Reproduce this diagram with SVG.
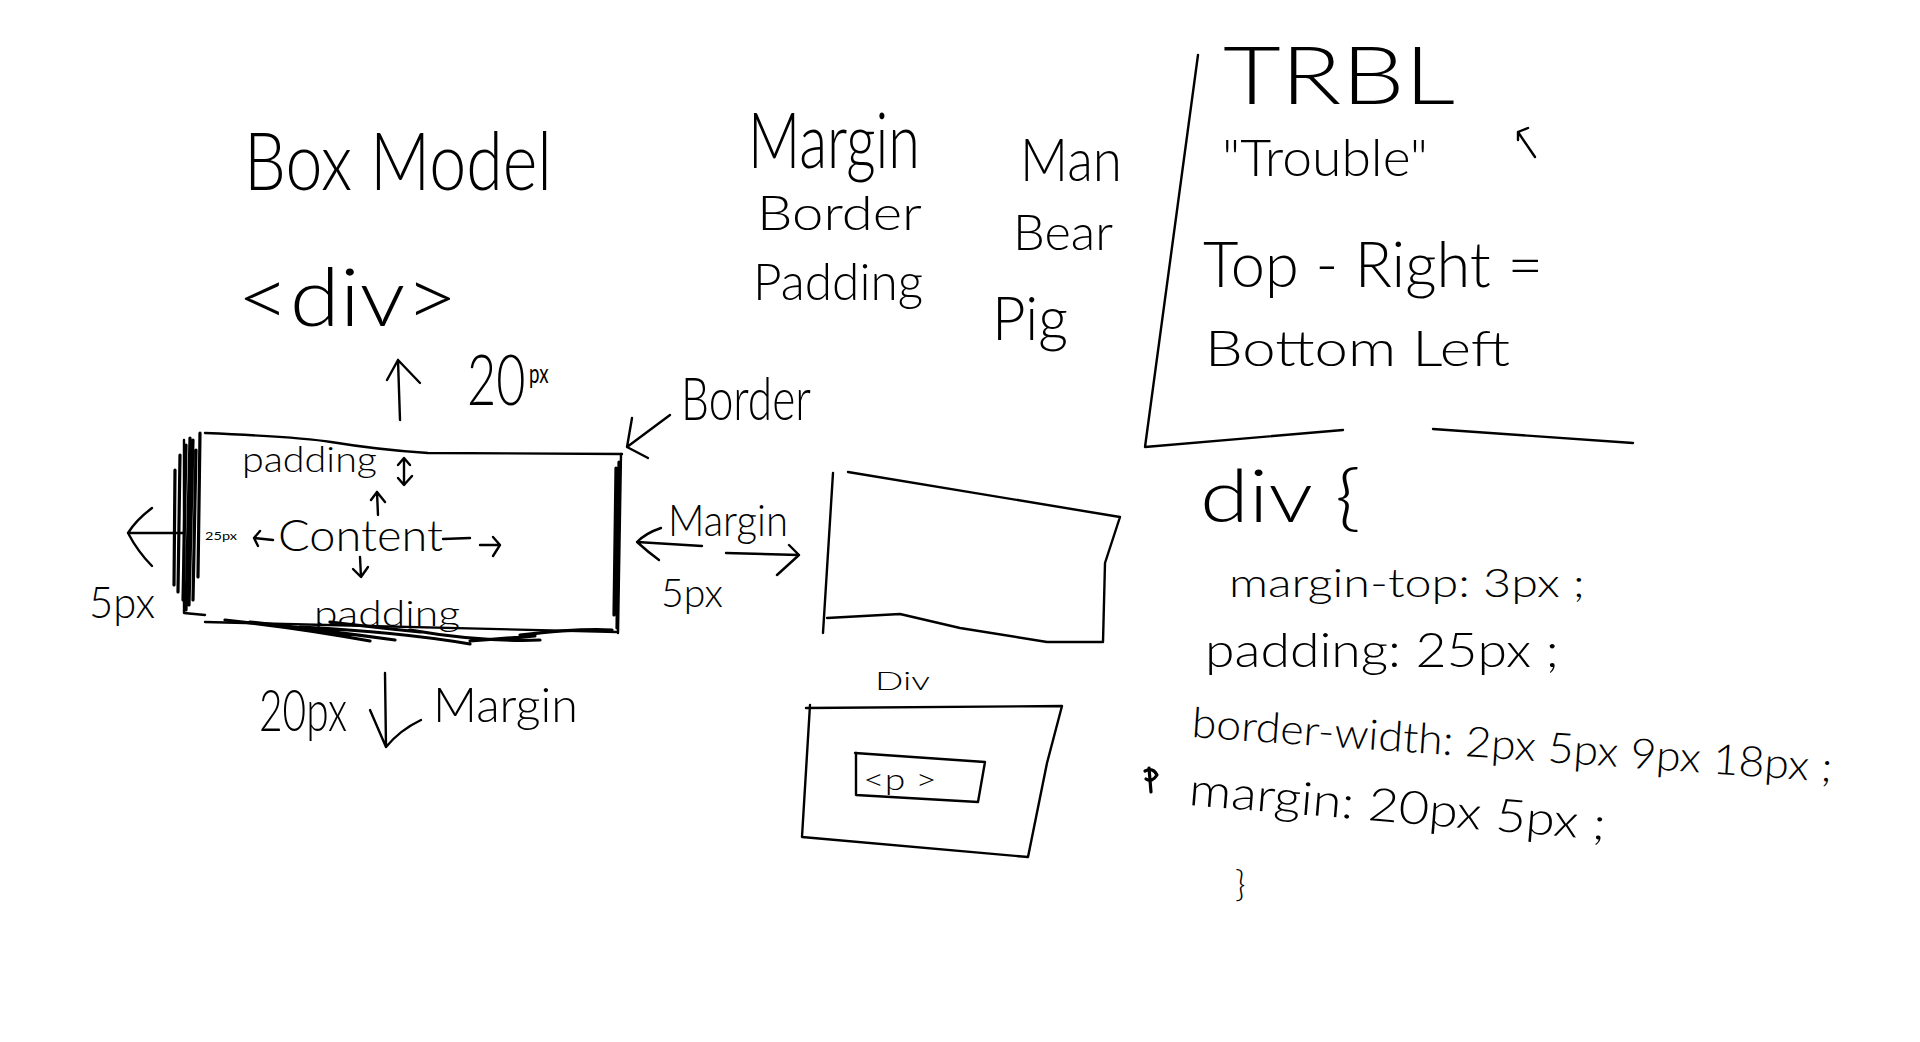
<svg xmlns="http://www.w3.org/2000/svg" width="1920" height="1042" viewBox="0 0 1920 1042">
<style>
.t{font-family:Lato,Inter,"Liberation Sans",sans-serif;font-weight:300;fill:#000}
.r{font-weight:400}
.s{fill:none;stroke:#000;stroke-width:2.4;stroke-linecap:round;stroke-linejoin:round}
.k{fill:none;stroke:#000;stroke-width:3.2;stroke-linecap:round;stroke-linejoin:round}
</style>
<rect width="1920" height="1042" fill="#fff"/>

<g id="title">
<text class="t" x="244" y="190" font-size="80" textLength="308" lengthAdjust="spacingAndGlyphs">Box Model</text>
<text class="t" x="237" y="326" font-size="80" textLength="221" lengthAdjust="spacingAndGlyphs">&lt;div&gt;</text>
</g>

<g id="top-margin-label">
<text class="t" transform="matrix(0.72 0 0 1 467 405)" font-size="70">20<tspan class="r" font-size="26" dx="5" dy="-22">px</tspan></text>
</g>

<g id="border-label">
<text class="t" x="681" y="420" font-size="60" textLength="130" lengthAdjust="spacingAndGlyphs">Border</text>
</g>

<g id="box-model">
<path class="s" d="M205 433 Q300 437 331 442 Q380 450 428 453 L622 454"/>
<path class="s" d="M621 454 L618 633"/>
<path class="k" d="M616 468 L614 615 M619 462 L617 628"/>
<path class="s" d="M184 440 L184 613 L205 615"/>
<path class="s" d="M205 622 L617 632"/>
<path class="k" d="M200 433 L198 577 M190 438 L186 610 M186 445 L183 600 M193 440 L189 605 M180 455 L178 592 M196 450 L193 600 M175 470 L174 585"/>
<path class="k" d="M225 620 Q300 628 370 641 M250 622 Q320 630 395 640 M300 627 Q400 632 470 644 M330 622 Q380 628 420 632 M410 630 Q480 642 540 640 M470 641 L535 636 M520 635 Q580 628 612 630"/>
<text class="t" x="242" y="472" font-size="36" textLength="135" lengthAdjust="spacingAndGlyphs">padding</text>
<text class="t r" x="205" y="540" font-size="12" textLength="32" lengthAdjust="spacingAndGlyphs">25px</text>
<text class="t" x="278" y="551" font-size="44" textLength="165" lengthAdjust="spacingAndGlyphs">Content</text>
<text class="t" x="314" y="626" font-size="36" textLength="146" lengthAdjust="spacingAndGlyphs">padding</text>
</g>

<g id="left-margin-label">
<text class="t" x="89" y="618" font-size="44" textLength="66" lengthAdjust="spacingAndGlyphs">5px</text>
</g>

<g id="right-margin-label">
<text class="t" x="668" y="536" font-size="44" textLength="120" lengthAdjust="spacingAndGlyphs">Margin</text>
<text class="t" x="661" y="607" font-size="40" textLength="62" lengthAdjust="spacingAndGlyphs">5px</text>
</g>

<g id="bottom-margin-label">
<text class="t" x="259" y="731" font-size="58" textLength="88" lengthAdjust="spacingAndGlyphs">20px</text>
<text class="t" x="433" y="722" font-size="48" textLength="145" lengthAdjust="spacingAndGlyphs">Margin</text>
</g>

<g id="layers-list">
<text class="t" x="748" y="168" font-size="76" textLength="172" lengthAdjust="spacingAndGlyphs">Margin</text>
<text class="t" x="757" y="230" font-size="48" textLength="165" lengthAdjust="spacingAndGlyphs">Border</text>
<text class="t" x="753" y="300" font-size="52" textLength="170" lengthAdjust="spacingAndGlyphs">Padding</text>
</g>

<g id="mnemonic">
<text class="t" x="1020" y="181" font-size="60" textLength="102" lengthAdjust="spacingAndGlyphs">Man</text>
<text class="t" x="1013" y="250" font-size="50" textLength="100" lengthAdjust="spacingAndGlyphs">Bear</text>
<text class="t" x="992" y="340" font-size="62" textLength="76" lengthAdjust="spacingAndGlyphs">Pig</text>
</g>

<g id="trbl">
<path class="s" d="M1198 55 L1145 447 L1343 430 M1433 429 L1633 443"/>
<text class="t" x="1223" y="104" font-size="80" textLength="232" lengthAdjust="spacingAndGlyphs">TRBL</text>
<text class="t" x="1222" y="176" font-size="52" textLength="206" lengthAdjust="spacingAndGlyphs">"Trouble"</text>
<text class="t" x="1203" y="287" font-size="64" textLength="340" lengthAdjust="spacingAndGlyphs">Top - Right =</text>
<text class="t" x="1205" y="366" font-size="50" textLength="305" lengthAdjust="spacingAndGlyphs">Bottom Left</text>
</g>

<g id="css-rule">
<text class="t" x="1200" y="522" font-size="72" textLength="161" lengthAdjust="spacingAndGlyphs">div {</text>
<text class="t" x="1229" y="597" font-size="40" textLength="356" lengthAdjust="spacingAndGlyphs">margin-top: 3px ;</text>
<text class="t" x="1205" y="667" font-size="48" textLength="354" lengthAdjust="spacingAndGlyphs">padding: 25px ;</text>
<text class="t" x="1191" y="737" font-size="42" textLength="642" lengthAdjust="spacingAndGlyphs" transform="rotate(4 1191 737)">border-width: 2px 5px 9px 18px ;</text>
<path class="k" d="M1149 768 L1151 792 M1145 771 Q1153 767 1157 775 Q1152 783 1146 779"/>
<text class="t" x="1188" y="805" font-size="46" textLength="418" lengthAdjust="spacingAndGlyphs" transform="rotate(4.8 1188 805)">margin: 20px 5px ;</text>
<text class="t" x="1235" y="896" font-size="36">}</text>
</g>

<g id="sample-box">
<path class="s" d="M833 473 L823 633 M848 472 Q960 490 1120 517 L1105 563 L1103 642 M827 618 L900 614 L960 628 L1047 642 L1103 642"/>
</g>

<g id="div-box">
<text class="t" x="875" y="690" font-size="26" textLength="55" lengthAdjust="spacingAndGlyphs">Div</text>
<path class="s" d="M806 708 L1062 706 L1047 763 L1028 857 M810 705 L802 837 L1028 857"/>
</g>

<g id="p-box">
<path class="s" d="M855 753 L985 762 L978 802 L856 795 L856 753"/>
<text class="t" x="863" y="790" font-size="30" textLength="74" lengthAdjust="spacingAndGlyphs">&lt;p &gt;</text>
</g>

<g id="connectors">
<path class="s" d="M400 420 L398 360 M387 380 L398 360 L420 383"/>
<path class="s" d="M670 415 L627 447 M632 418 L627 447 L648 458"/>
<path class="s" d="M184 533 L128 533 M152 508 Q136 520 128 533 Q138 552 152 566"/>
<path class="s" d="M404 460 L404 483 M398 465 L404 458 L410 465 M398 478 L404 485 L412 476"/>
<path class="s" d="M378 515 L377 492 M371 500 L377 492 L385 502"/>
<path class="s" d="M360 557 L361 577 M353 569 L361 577 L368 567"/>
<path class="s" d="M273 540 L254 538 M260 531 L254 538 L258 546"/>
<path class="s" d="M443 539 L470 538 M480 545 L500 545 M493 537 L500 545 L493 556"/>
<path class="s" d="M702 546 L637 542 M661 528 Q646 533 637 542 Q648 552 659 560"/>
<path class="s" d="M726 553 L799 555 M789 545 L799 555 L777 575"/>
<path class="s" d="M385 673 L386 747 M370 710 L386 747 Q400 730 421 720"/>
<path class="s" d="M1535 157 L1518 132 M1528 128 L1518 132 L1518 140"/>
</g>
</svg>
